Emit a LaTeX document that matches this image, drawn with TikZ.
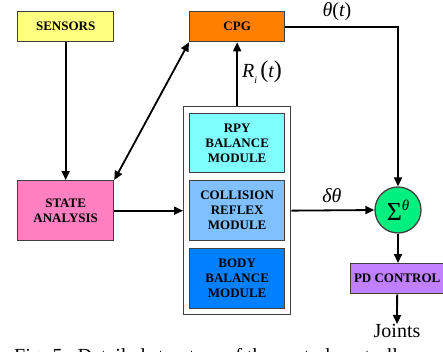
\documentclass[tikz,border=0pt]{standalone}
\usepackage{fontspec}
\setmainfont{Liberation Serif}
\usetikzlibrary{arrows.meta}
\definecolor{cyel}{HTML}{FFFF80}
\definecolor{corg}{HTML}{FF8000}
\definecolor{ccyan}{HTML}{80FFFF}
\definecolor{clblue}{HTML}{80C0FF}
\definecolor{cblue}{HTML}{0080FF}
\definecolor{cpink}{HTML}{FF80C0}
\definecolor{cpurp}{HTML}{C080FF}
\definecolor{cgreen}{HTML}{00F080}
\begin{document}
\begin{tikzpicture}[x=1pt,y=-1pt,
  box/.style={draw=black!75, line width=1.3pt, font=\bfseries\fontsize{13}{15}\selectfont,
    align=center, inner sep=0pt, anchor=north west},
  tip/.style={Triangle[length=9pt,width=8pt]},
  conn/.style={line width=1.8pt, -{Triangle[length=9pt,width=8pt]}},
  lbl/.style={font=\fontsize{20}{22}\selectfont, inner sep=0pt}
]
\useasboundingbox (0,0) rectangle (443,351);
\node[box, fill=cyel, minimum width=96pt, minimum height=30pt] (sensors) at (17,11) {SENSORS};
\node[box, fill=corg, minimum width=95pt, minimum height=30pt] (cpg) at (189,11) {CPG};
\node[box, fill=cpink, minimum width=96pt, minimum height=60pt] (state) at (17,180) {STATE\\ANALYSIS};
\node[draw=black!75, line width=1.3pt, fill=white, minimum width=107pt, minimum height=208pt,
  inner sep=0pt, anchor=north west] (mod) at (183,106) {};
\node[box, fill=ccyan, minimum width=95pt, minimum height=59pt] (rpy) at (189,113) {RPY\\BALANCE\\MODULE};
\node[box, fill=clblue, minimum width=95pt, minimum height=60pt] (coll) at (189,180) {COLLISION\\REFLEX\\MODULE};
\node[box, fill=cblue, minimum width=95pt, minimum height=60pt] (body) at (189,248) {BODY\\BALANCE\\MODULE};
\node[circle, draw=black!75, line width=1.3pt, fill=cgreen, minimum size=46pt, inner sep=0pt,
  font=\fontsize{26}{26}\selectfont] (sum) at (398,210) {\raisebox{-0.05em}{Σ}\raisebox{0.35em}{\fontsize{15}{15}\selectfont\itshape θ}};
\node[box, fill=cpurp, minimum width=93pt, minimum height=30pt] (pd) at (350,263) {PD CONTROL};
\node[lbl, anchor=north] (joints) at (397,324) {Joints};
\node[lbl] (thlbl) at (337,12) {\itshape θ\upshape(\itshape t\upshape)};
\node[lbl] (dlbl) at (332,196) {\itshape δθ};
\node[lbl] (rlbl) at (262,72) {\itshape R\raisebox{-0.3em}{\fontsize{10}{10}\selectfont i}\,\upshape\fontsize{24}{24}\selectfont(\fontsize{20}{22}\selectfont\itshape t\upshape\fontsize{24}{24}\selectfont)};

\draw[conn] (sensors.south) -- (state.north);
\draw[line width=1.8pt, {Triangle[length=9pt,width=8pt]}-{Triangle[length=9pt,width=8pt]}] (state.north east) -- (cpg.south west);
\draw[conn] (state.east) -- (state.east -| mod.west);
\draw[conn] (mod.north) -- (mod.north |- cpg.south);
\draw[conn] (cpg.east) -| (sum.north);
\draw[conn] (coll.east -| mod.east) -- (sum.west);
\draw[conn] (sum.south) -- (sum.south |- pd.north);
\draw[conn] (pd.south) -- (joints.north);

\begin{scope}
\clip (0,0) rectangle (443,351);
\node[lbl, anchor=base west] (cap) at (14,362) {Fig. 5.\ \ Detailed structure of the central controller};
\end{scope}
\end{tikzpicture}
\end{document}
